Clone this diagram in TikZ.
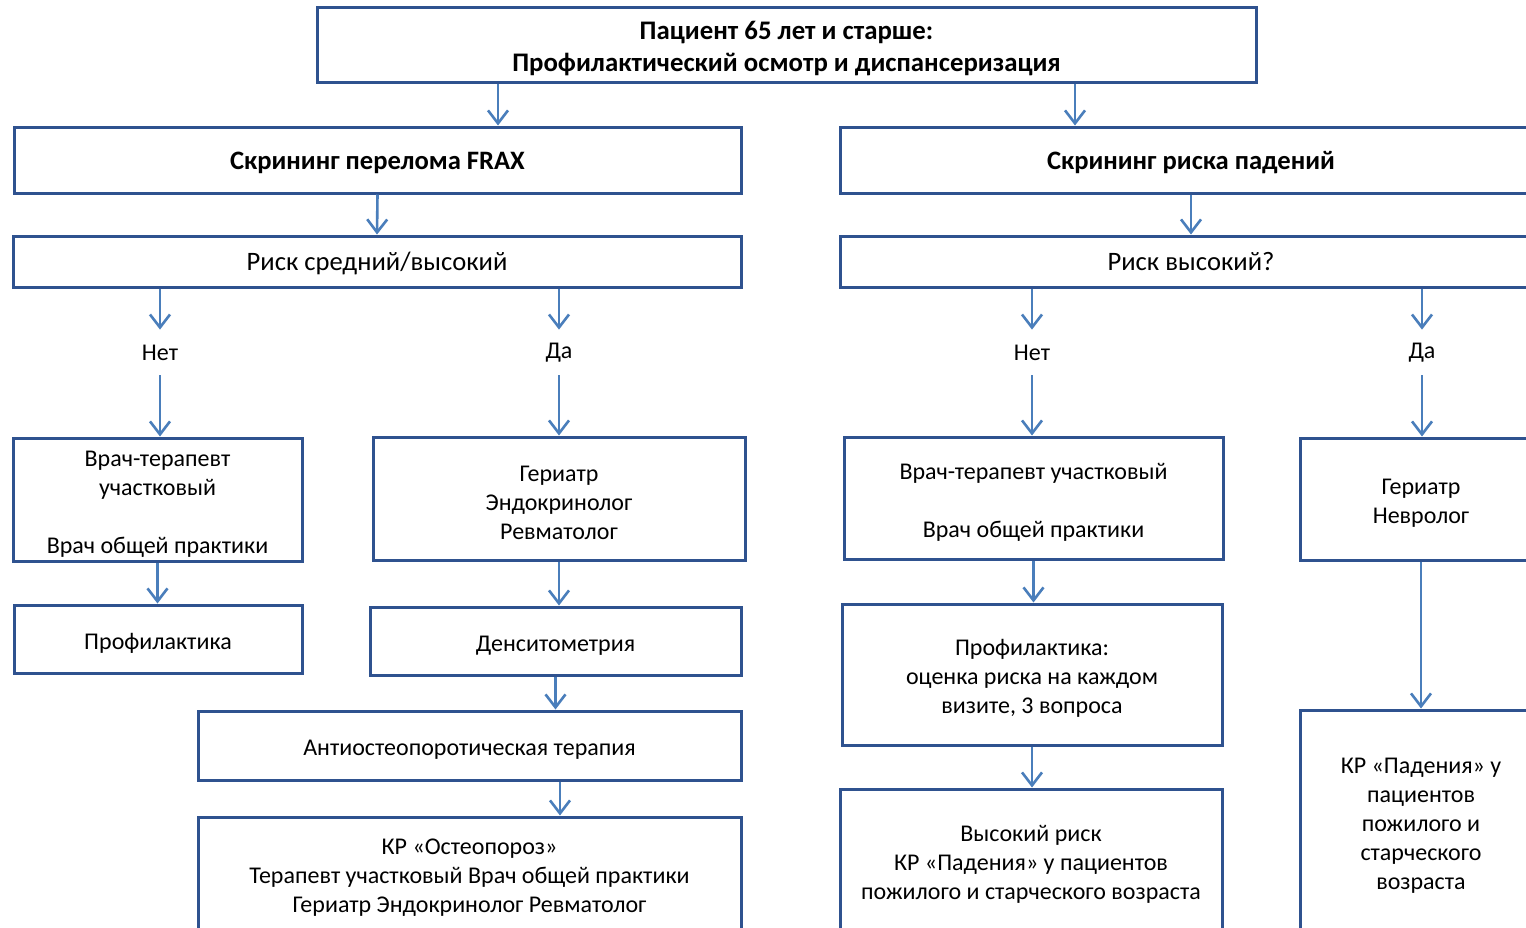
\documentclass[tikz,border=0pt]{standalone}
\usepackage{fontspec}
\setmainfont{Carlito}
\usetikzlibrary{arrows.meta}

\definecolor{boxblue}{RGB}{47,82,143}
\definecolor{arrblue}{RGB}{74,126,187}
\newcommand{\hstrut}{\rule{0pt}{1em}}

\begin{document}
\begin{tikzpicture}[x=0.5pt, y=-0.5pt, font=\fontsize{12}{14.5}\selectfont]
  \tikzstyle{box} = [draw=boxblue, line width=1.5pt, align=center, inner sep=0pt,
                     execute at begin node=\hstrut]
  \tikzstyle{big} = [font=\fontsize{13.3}{14.5}\selectfont, execute at begin node={},
                     text height=12pt, text depth=3pt]
  \tikzstyle{bigb} = [big, font=\bfseries\fontsize{13.3}{14.5}\selectfont]
  \tikzstyle{lbl} = [inner sep=0pt, minimum height=22.5pt]
  \tikzstyle{arr} = [draw=arrblue, line width=1.3pt, -{Straight Barb[length=6.5pt,width=10pt]}]

  \clip (0,0) rectangle (1526,927);

  % top row
  \node[box, minimum width=469.5pt, minimum height=37.5pt, font=\bfseries\fontsize{13.4}{16}\selectfont] (top) at (786.5,44.5)
    {\hstrut Пациент 65 лет и старше:\\Профилактический осмотр и диспансеризация};
  \node[box, bigb, minimum width=363.5pt, minimum height=33pt] (frax) at (377.5,160) {Скрининг перелома FRAX};
  \node[box, bigb, minimum width=351pt, minimum height=33pt] (falls) at (1191,160) {Скрининг риска падений};
  \node[box, big, minimum width=364pt, minimum height=25.5pt] (risk1) at (377,261.5) {Риск средний/высокий};
  \node[box, big, minimum width=351pt, minimum height=25.5pt] (risk2) at (1191,261.5) {Риск высокий?};

  % answers
  \node[lbl] (no1) at (160,352.5) {Нет};
  \node[lbl] (yes1) at (559,352.5) {Да};
  \node[lbl] (no2) at (1032,352.5) {Нет};
  \node[lbl] (yes2) at (1422,352.5) {Да};

  % left branch
  \node[box, minimum width=144.5pt, minimum height=61.5pt] (A) at (157.5,499.5)
    {\hstrut Врач-терапевт\\участковый\\[14.5pt]Врач общей практики};
  \node[box, minimum width=186pt, minimum height=61.5pt] (B) at (559,498.5)
    {\hstrut Гериатр\\Эндокринолог\\Ревматолог};
  \node[box, minimum width=144pt, minimum height=34pt] (E) at (158,639) {Профилактика};
  \node[box, minimum width=185.5pt, minimum height=34pt] (F) at (555.5,641) {Денситометрия};
  \node[box, minimum width=271.5pt, minimum height=34.5pt] (G) at (469.5,745.5) {Антиостеопоротическая терапия};
  \node[box, minimum width=271.5pt, minimum height=56pt] (H) at (469.5,873)
    {\hstrut КР «Остеопороз»\\Терапевт участковый Врач общей практики\\Гериатр Эндокринолог Ревматолог};

  % right branch
  \node[box, minimum width=189.5pt, minimum height=61pt] (C) at (1033.5,498)
    {\hstrut Врач-терапевт участковый\\[14.5pt]Врач общей практики};
  \node[box, minimum width=121pt, minimum height=61pt] (D) at (1421,499)
    {\hstrut Гериатр\\Невролог};
  \node[box, minimum width=190pt, minimum height=70.5pt] (I) at (1032,674.5)
    {\hstrut Профилактика:\\оценка риска на каждом\\визите, 3 вопроса};
  \node[box, minimum width=191pt, minimum height=71pt] (J) at (1031,860)
    {\hstrut Высокий риск\\КР «Падения» у пациентов\\пожилого и старческого возраста};
  \node[box, minimum width=121pt, minimum height=111pt] (K) at (1421,821)
    {\hstrut КР «Падения» у\\пациентов\\пожилого и\\старческого\\возраста};

  \coordinate (c1) at (498,0);
  \coordinate (c2) at (1075,0);
  \coordinate (c3) at (560,0);

  \draw[arr] (top.south -| c1) -- (frax.north -| c1);
  \draw[arr] (top.south -| c2) -- (falls.north -| c2);
  \draw[arr] (frax.south) -- (risk1.north);
  \draw[arr] (falls.south) -- (risk2.north);

  \draw[arr] (risk1.south -| no1) -- (no1.north);
  \draw[arr] (risk1.south -| yes1) -- (yes1.north);
  \draw[arr] (risk2.south -| no2) -- (no2.north);
  \draw[arr] (risk2.south -| yes2) -- (yes2.north);
  \draw[arr] (no1.south) -- (no1.south |- A.north);
  \draw[arr] (yes1.south) -- (yes1.south |- B.north);
  \draw[arr] (no2.south) -- (no2.south |- C.north);
  \draw[arr] (yes2.south) -- (yes2.south |- D.north);

  \draw[arr] (A.south) -- (A.south |- E.north);
  \draw[arr] (B.south) -- (B.south |- F.north);
  \draw[arr] (F.south) -- (F.south |- G.north);
  \draw[arr] (G.south -| c3) -- (H.north -| c3);

  \draw[arr] (C.south) -- (C.south |- I.north);
  \draw[arr] (I.south) -- (I.south |- J.north);
  \draw[arr] (D.south) -- (D.south |- K.north);
\end{tikzpicture}
\end{document}
